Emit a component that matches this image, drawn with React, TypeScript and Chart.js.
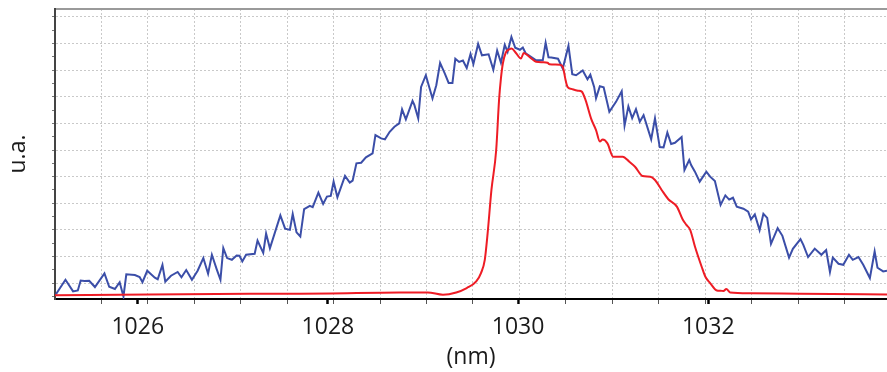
import { useEffect, useRef } from 'react';
import { Chart, registerables } from 'chart.js';

Chart.register(...registerables);

// Wavelength (nm) / intensity (u.a.)
const blueNm = [
  1025.14, 1025.24, 1025.32, 1025.37, 1025.40, 1025.44, 1025.49, 1025.55, 1025.65, 1025.70,
  1025.76, 1025.81, 1025.85, 1025.88, 1025.97, 1026.02, 1026.05, 1026.10, 1026.18, 1026.21,
  1026.26, 1026.29, 1026.35, 1026.42, 1026.46, 1026.51, 1026.57, 1026.63, 1026.69, 1026.74,
  1026.78, 1026.83, 1026.87, 1026.90, 1026.94, 1026.99, 1027.04, 1027.07, 1027.10, 1027.14,
  1027.23, 1027.26, 1027.32, 1027.35, 1027.39, 1027.50, 1027.55, 1027.60, 1027.63, 1027.67,
  1027.71, 1027.75, 1027.81, 1027.84, 1027.90, 1027.95, 1027.99, 1028.03, 1028.06, 1028.10,
  1028.18, 1028.23, 1028.26, 1028.30, 1028.35, 1028.40, 1028.47, 1028.50, 1028.56, 1028.60,
  1028.65, 1028.70, 1028.75, 1028.78, 1028.82, 1028.89, 1028.91, 1028.95, 1028.98, 1029.03,
  1029.06, 1029.10, 1029.14, 1029.18, 1029.23, 1029.27, 1029.31, 1029.34, 1029.38, 1029.42,
  1029.46, 1029.50, 1029.53, 1029.58, 1029.62, 1029.69, 1029.74, 1029.78, 1029.82, 1029.86,
  1029.89, 1029.93, 1029.97, 1030.02, 1030.05, 1030.08, 1030.12, 1030.19, 1030.26, 1030.29,
  1030.32, 1030.35, 1030.42, 1030.47, 1030.53, 1030.57, 1030.61, 1030.68, 1030.73, 1030.76,
  1030.80, 1030.82, 1030.86, 1030.90, 1030.96, 1031.03, 1031.09, 1031.12, 1031.16, 1031.20,
  1031.24, 1031.28, 1031.32, 1031.40, 1031.44, 1031.49, 1031.53, 1031.57, 1031.61, 1031.65,
  1031.72, 1031.75, 1031.80, 1031.82, 1031.86, 1031.91, 1031.98, 1032.02, 1032.07, 1032.13,
  1032.18, 1032.22, 1032.26, 1032.30, 1032.37, 1032.42, 1032.45, 1032.49, 1032.54, 1032.58,
  1032.62, 1032.66, 1032.73, 1032.78, 1032.85, 1032.89, 1032.97, 1033.00, 1033.05, 1033.12,
  1033.19, 1033.24, 1033.28, 1033.31, 1033.37, 1033.42, 1033.48, 1033.52, 1033.58, 1033.63,
  1033.70, 1033.75, 1033.78, 1033.84, 1033.88,
];
const blueVal = [
  -4.2, 1.24, -3.15, -2.78, 0.94, 0.75, 0.86, -1.5, 3.64, -1.39,
  -2.25, 0.3, -5.03, 3.3, 3.0, 2.25, 0.3, 4.61, 1.99, 1.43,
  6.79, 0.49, 2.74, 4.16, 2.18, 4.88, 1.24, 4.61, 9.38, 3.49,
  10.61, 5.25, 1.24, 13.13, 9.38, 8.74, 10.35, 10.24, 8.1, 10.61,
  10.99, 15.98, 11.36, 18.6, 13.05, 25.43, 20.44, 19.99, 25.91, 19.05,
  17.48, 27.75, 28.99, 28.5, 33.98, 29.74, 32.48, 32.74, 38.1, 32.25,
  40.24, 37.73, 38.48, 45.0, 45.23, 47.25, 48.75, 55.61, 54.38, 54.0,
  56.85, 58.73, 60.0, 65.25, 61.5, 68.48, 66.86, 61.88, 73.73, 78.11,
  74.36, 69.38, 74.36, 82.73, 78.75, 75.23, 75.23, 84.3, 83.1, 83.63,
  80.81, 86.1, 82.35, 89.85, 85.61, 85.99, 80.18, 87.38, 82.8, 89.55,
  86.93, 92.48, 88.43, 87.68, 88.5, 86.36, 85.43, 83.74, 83.74, 90.3,
  84.86, 84.75, 84.3, 80.63, 89.18, 78.49, 78.11, 79.88, 76.61, 78.3,
  73.73, 69.49, 73.99, 73.61, 64.35, 68.1, 72.11, 59.18, 66.38, 61.99,
  65.36, 60.6, 63.11, 54.0, 61.88, 51.11, 51.0, 56.55, 52.24, 52.73,
  54.86, 42.49, 46.24, 44.36, 41.85, 38.1, 41.85, 39.98, 38.36, 29.36,
  32.93, 31.35, 32.06, 28.73, 27.94, 26.85, 23.93, 25.8, 19.88, 25.99,
  24.49, 14.74, 20.63, 17.74, 9.56, 12.86, 16.5, 14.36, 9.75, 12.94,
  10.61, 12.38, 4.16, 9.56, 7.24, 6.86, 10.61, 8.74, 9.75, 6.86,
  1.88, 11.85, 5.74, 4.35, 4.61,
];

const redNm = [
  1025.13, 1026.12, 1027.18, 1027.70, 1028.75, 1029.05, 1029.21, 1029.35, 1029.46, 1029.56,
  1029.61, 1029.65, 1029.68, 1029.72, 1029.77, 1029.80, 1029.82, 1029.84, 1029.87, 1029.91,
  1029.93, 1029.98, 1030.03, 1030.06, 1030.12, 1030.19, 1030.26, 1030.31, 1030.33, 1030.44,
  1030.47, 1030.50, 1030.52, 1030.56, 1030.63, 1030.67, 1030.71, 1030.77, 1030.82, 1030.86,
  1030.89, 1030.94, 1031.00, 1031.10, 1031.17, 1031.23, 1031.31, 1031.39, 1031.44, 1031.51,
  1031.58, 1031.67, 1031.73, 1031.77, 1031.81, 1031.86, 1031.93, 1031.97, 1032.02, 1032.09,
  1032.13, 1032.16, 1032.19, 1032.23, 1032.44, 1032.96, 1033.88,
];
const redVal = [
  -4.58, -4.31, -4.01, -4.01, -3.56, -3.53, -4.39, -3.53, -1.88, 0.6,
  3.75, 8.74, 18.75, 34.99, 49.99, 68.74, 76.99, 82.5, 86.55, 87.86,
  88.13, 86.36, 84.38, 86.48, 84.98, 83.18, 82.99, 82.8, 82.24, 82.05,
  81.3, 76.24, 73.73, 72.98, 72.3, 71.93, 68.74, 61.61, 57.49, 53.18,
  53.93, 52.5, 47.48, 47.48, 45.6, 43.73, 40.24, 39.98, 38.74, 34.99,
  31.5, 28.73, 24.0, 21.86, 19.99, 13.73, 6.23, 2.36, 0, -2.78,
  -2.89, -3.0, -2.25, -3.53, -3.83, -4.01, -4.31,
];

const xMajorTicks = [1026, 1028, 1030, 1032];
const X_MIN = 1025.13;
const X_MAX = 1033.88;
const X_GRID_STEP = 0.4884;
const Y_MIN = -6;
const Y_MAX = 103;
const yGridTicks = [0, 10, 20, 30, 40, 50, 60, 70, 80, 90, 100];
const yMinorTicks = [-5, 5, 15, 25, 35, 45, 55, 65, 75, 85, 95];

const FONT = "'Open Sans', 'DejaVu Sans', sans-serif";
const GRID_COLOR = '#c9c9c9';

export default function App() {
  const ref = useRef<HTMLCanvasElement>(null);

  useEffect(() => {
    if (!ref.current) return;
    const xGrid: number[] = [];
    for (let k = 1; X_MIN + k * X_GRID_STEP < X_MAX; k++) {
      xGrid.push(+(X_MIN + k * X_GRID_STEP).toFixed(4));
    }
    const isMajor = (v: number) => xMajorTicks.some((m) => Math.abs(m - v) < 1e-6);
    const isYGrid = (v: number) => yGridTicks.some((m) => Math.abs(m - v) < 1e-6);

    const chart = new Chart(ref.current, {
      type: 'line',
      data: {
        datasets: [
          {
            label: 'red',
            data: redNm.map((x, i) => ({ x, y: redVal[i] })),
            borderColor: '#ee1c25',
            borderWidth: 2,
            pointRadius: 0,
            cubicInterpolationMode: 'monotone',
            fill: false,
          },
          {
            label: 'blue',
            data: blueNm.map((x, i) => ({ x, y: blueVal[i] })),
            borderColor: '#3b4ea8',
            borderWidth: 2,
            pointRadius: 0,
            tension: 0,
            fill: false,
          },
        ],
      },
      options: {
        responsive: false,
        animation: false,
        layout: { padding: { top: 9, left: 0, right: 0, bottom: 0 } },
        plugins: { legend: { display: false }, tooltip: { enabled: false } },
        scales: {
          x: {
            type: 'linear',
            position: 'bottom',
            min: X_MIN,
            max: X_MAX,
            afterBuildTicks: (s: any) => {
              s.ticks = [...xMajorTicks, ...xGrid].sort((a, b) => a - b).map((v) => ({ value: v }));
            },
            afterFit: (s: any) => {
              s.height = 73;
            },
            ticks: {
              autoSkip: false,
              maxRotation: 0,
              padding: 10,
              color: '#1a1a1a',
              font: { family: FONT, size: 23 },
              callback: (v: any) => (isMajor(Number(v)) ? String(v) : ''),
            },
            grid: {
              color: (c: any) => (c.tick && isMajor(c.tick.value) ? 'rgba(0,0,0,0)' : GRID_COLOR),
              lineWidth: 1,
              drawTicks: true,
              tickLength: 5,
              tickColor: (c: any) => (c.tick && isMajor(c.tick.value) ? '#000' : '#555'),
              tickWidth: (c: any) => (c.tick && isMajor(c.tick.value) ? 2.5 : 1),
            },
            border: { display: true, color: '#000', width: 2, dash: [2, 2] },
            title: {
              display: true,
              text: '(nm)',
              color: '#1a1a1a',
              font: { family: FONT, size: 23 },
              padding: { top: 0, bottom: 1 },
            },
          },
          xt: {
            type: 'linear',
            position: 'top',
            min: X_MIN,
            max: X_MAX,
            ticks: { display: false },
            grid: { display: false, drawTicks: false },
            border: { display: true, color: '#9a9a9a', width: 2 },
          },
          y: {
            type: 'linear',
            position: 'left',
            min: Y_MIN,
            max: Y_MAX,
            afterBuildTicks: (s: any) => {
              s.ticks = [...yGridTicks, ...yMinorTicks].sort((a, b) => a - b).map((v) => ({ value: v }));
            },
            afterFit: (s: any) => {
              s.width = 55;
            },
            ticks: { display: false },
            grid: {
              color: (c: any) => (c.tick && isYGrid(c.tick.value) ? GRID_COLOR : 'rgba(0,0,0,0)'),
              lineWidth: 1,
              drawTicks: true,
              tickLength: 3,
              tickColor: '#777',
              tickWidth: 1,
            },
            border: { display: true, color: '#444', width: 2, dash: [2, 2] },
            title: {
              display: true,
              text: 'u.a.',
              color: '#1a1a1a',
              font: { family: FONT, size: 23 },
              padding: { top: 5, bottom: 0 },
            },
          },
        },
      },
    } as any);

    return () => chart.destroy();
  }, []);

  return (
    <div style={{ position: 'fixed', left: 0, top: 0, width: 887, height: 372, background: '#fff' }}>
      <canvas ref={ref} width={887} height={372} style={{ display: 'block' }} />
    </div>
  );
}
